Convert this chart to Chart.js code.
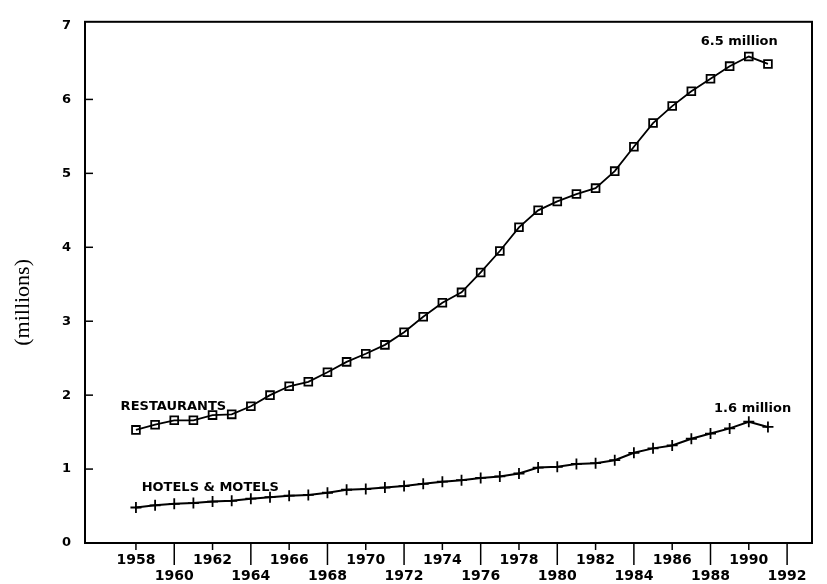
<!DOCTYPE html>
<html>
<head>
<meta charset="utf-8">
<title>Restaurants / Hotels & Motels</title>
<script src="https://cdn.jsdelivr.net/npm/chart.js@4.4.1/dist/chart.umd.min.js"></script>
<style>
  html, body { margin: 0; padding: 0; background: #fff; }
  #wrap { width: 827px; height: 584px; }
</style>
</head>
<body>
<div id="wrap"><canvas id="empChart"></canvas></div>
<script>

//////// DATA (millions) ////////

var years = [1958, 1959, 1960, 1961, 1962, 1963, 1964, 1965, 1966, 1967, 1968, 1969,
             1970, 1971, 1972, 1973, 1974, 1975, 1976, 1977, 1978, 1979, 1980, 1981,
             1982, 1983, 1984, 1985, 1986, 1987, 1988, 1989, 1990, 1991];

var restaurants = [1.53, 1.60, 1.66, 1.66, 1.73, 1.74, 1.85, 2.00, 2.12, 2.18, 2.31, 2.45,
                   2.56, 2.68, 2.85, 3.06, 3.25, 3.39, 3.66, 3.95, 4.27, 4.50, 4.62, 4.72,
                   4.80, 5.03, 5.36, 5.68, 5.91, 6.11, 6.28, 6.45, 6.58, 6.48];

var hotels = [0.48, 0.51, 0.53, 0.54, 0.56, 0.57, 0.60, 0.62, 0.64, 0.65, 0.68, 0.72,
              0.73, 0.75, 0.77, 0.80, 0.83, 0.85, 0.88, 0.90, 0.94, 1.02, 1.03, 1.07,
              1.08, 1.12, 1.22, 1.28, 1.32, 1.41, 1.48, 1.55, 1.64, 1.57];

var tickYears = [1958, 1960, 1962, 1964, 1966, 1968, 1970, 1972, 1974, 1976,
                 1978, 1980, 1982, 1984, 1986, 1988, 1990, 1992];
var yTicks = [0, 1, 2, 3, 4, 5, 6, 7];

// text notes on the plot: [text, year, value, align]
var notes = [
    ['RESTAURANTS', 1957.2, 1.80, 'left'],
    ['HOTELS & MOTELS', 1958.3, 0.71, 'left'],
    ['6.5 million', 1989.5, 6.73, 'center'],
    ['1.6 million', 1990.2, 1.77, 'center']
];

var BOLD = 'bold 13px "DejaVu Sans", sans-serif';

function toPoints(vals) {
    return years.map(function (y, i) { return { x: y, y: vals[i] }; });
}

//////// FRAME, TICK MARKS, NOTES ////////
var framePlugin = {
    id: 'frame',
    afterDraw: function (chart) {
        var ctx = chart.ctx;
        var a = chart.chartArea;
        var xs = chart.scales.x;
        var ys = chart.scales.y;
        ctx.save();
        ctx.strokeStyle = '#000';
        ctx.lineWidth = 2;
        ctx.strokeRect(a.left, a.top, a.right - a.left, a.bottom - a.top);

        // long ticks under the lower row of years, short ones under the upper row
        ctx.lineWidth = 1.5;
        xs.ticks.forEach(function (t, i) {
            var px = xs.getPixelForValue(t.value);
            var len = (i % 2) ? 22 : 7;
            ctx.beginPath();
            ctx.moveTo(px, a.bottom);
            ctx.lineTo(px, a.bottom + len);
            ctx.stroke();
        });

        // y ticks point into the plot
        ys.ticks.forEach(function (t) {
            if (t.value <= 0 || t.value >= 7) return;
            var py = ys.getPixelForValue(t.value);
            ctx.beginPath();
            ctx.moveTo(a.left, py);
            ctx.lineTo(a.left + 8, py);
            ctx.stroke();
        });

        ctx.fillStyle = '#000';
        ctx.font = BOLD;
        ctx.textBaseline = 'alphabetic';
        notes.forEach(function (n) {
            ctx.textAlign = n[3];
            ctx.fillText(n[0], xs.getPixelForValue(n[1]), ys.getPixelForValue(n[2]));
        });

        // axis title
        ctx.translate(23, (a.top + a.bottom) / 2 + 20);
        ctx.rotate(-Math.PI / 2);
        ctx.font = '22px "Liberation Serif", serif';
        ctx.textAlign = 'center';
        ctx.textBaseline = 'middle';
        ctx.fillText('(millions)', 0, 0);
        ctx.restore();
    }
};

var ctxE = document.getElementById('empChart').getContext('2d');
var configE = {
    type: 'line',
    data: {
        datasets: [{
            label: 'Restaurants',
            data: toPoints(restaurants),
            borderColor: '#000',
            borderWidth: 1.8,
            pointStyle: 'rect',
            pointRadius: 5.5,
            pointBorderWidth: 1.8,
            pointBorderColor: '#000',
            pointBackgroundColor: 'rgba(255,255,255,0)',
            tension: 0
        },
        {
            label: 'Hotels & Motels',
            data: toPoints(hotels),
            borderColor: '#000',
            borderWidth: 2,
            pointStyle: 'cross',
            pointRadius: 5.5,
            pointBorderWidth: 1.8,
            pointBorderColor: '#000',
            tension: 0
        }]
    },
    options: {
        responsive: true,
        maintainAspectRatio: false,
        animation: false,
        layout: { padding: { left: 0, top: 14, right: 15, bottom: 0 } },
        plugins: {
            legend: { display: false },
            tooltip: { enabled: false }
        },
        scales: {
            x: {
                type: 'linear',
                min: 1955.34,
                max: 1993.3,
                grid: { display: false, drawTicks: false },
                border: { display: false },
                afterBuildTicks: function (scale) {
                    scale.ticks = tickYears.map(function (v) { return { value: v }; });
                },
                afterFit: function (scale) { scale.height = 41; },
                ticks: {
                    autoSkip: false,
                    maxRotation: 0,
                    minRotation: 0,
                    padding: 9,
                    color: '#000',
                    font: { family: '"DejaVu Sans", sans-serif', size: 14, weight: 'bold', lineHeight: 1.18 },
                    callback: function (value, index) {
                        return (index % 2) ? ['', String(value)] : [String(value), ''];
                    }
                }
            },
            y: {
                min: 0,
                max: 7.05,
                grid: { display: false, drawTicks: false },
                border: { display: false },
                afterBuildTicks: function (scale) {
                    scale.ticks = yTicks.map(function (v) { return { value: v }; });
                },
                afterFit: function (scale) { scale.width = 85; },
                ticks: {
                    padding: 14,
                    color: '#000',
                    font: { family: '"DejaVu Sans", sans-serif', size: 13, weight: 'bold' }
                }
            }
        }
    },
    plugins: [framePlugin]
};
var empChart = new Chart(ctxE, configE);

</script>
</body>
</html>
